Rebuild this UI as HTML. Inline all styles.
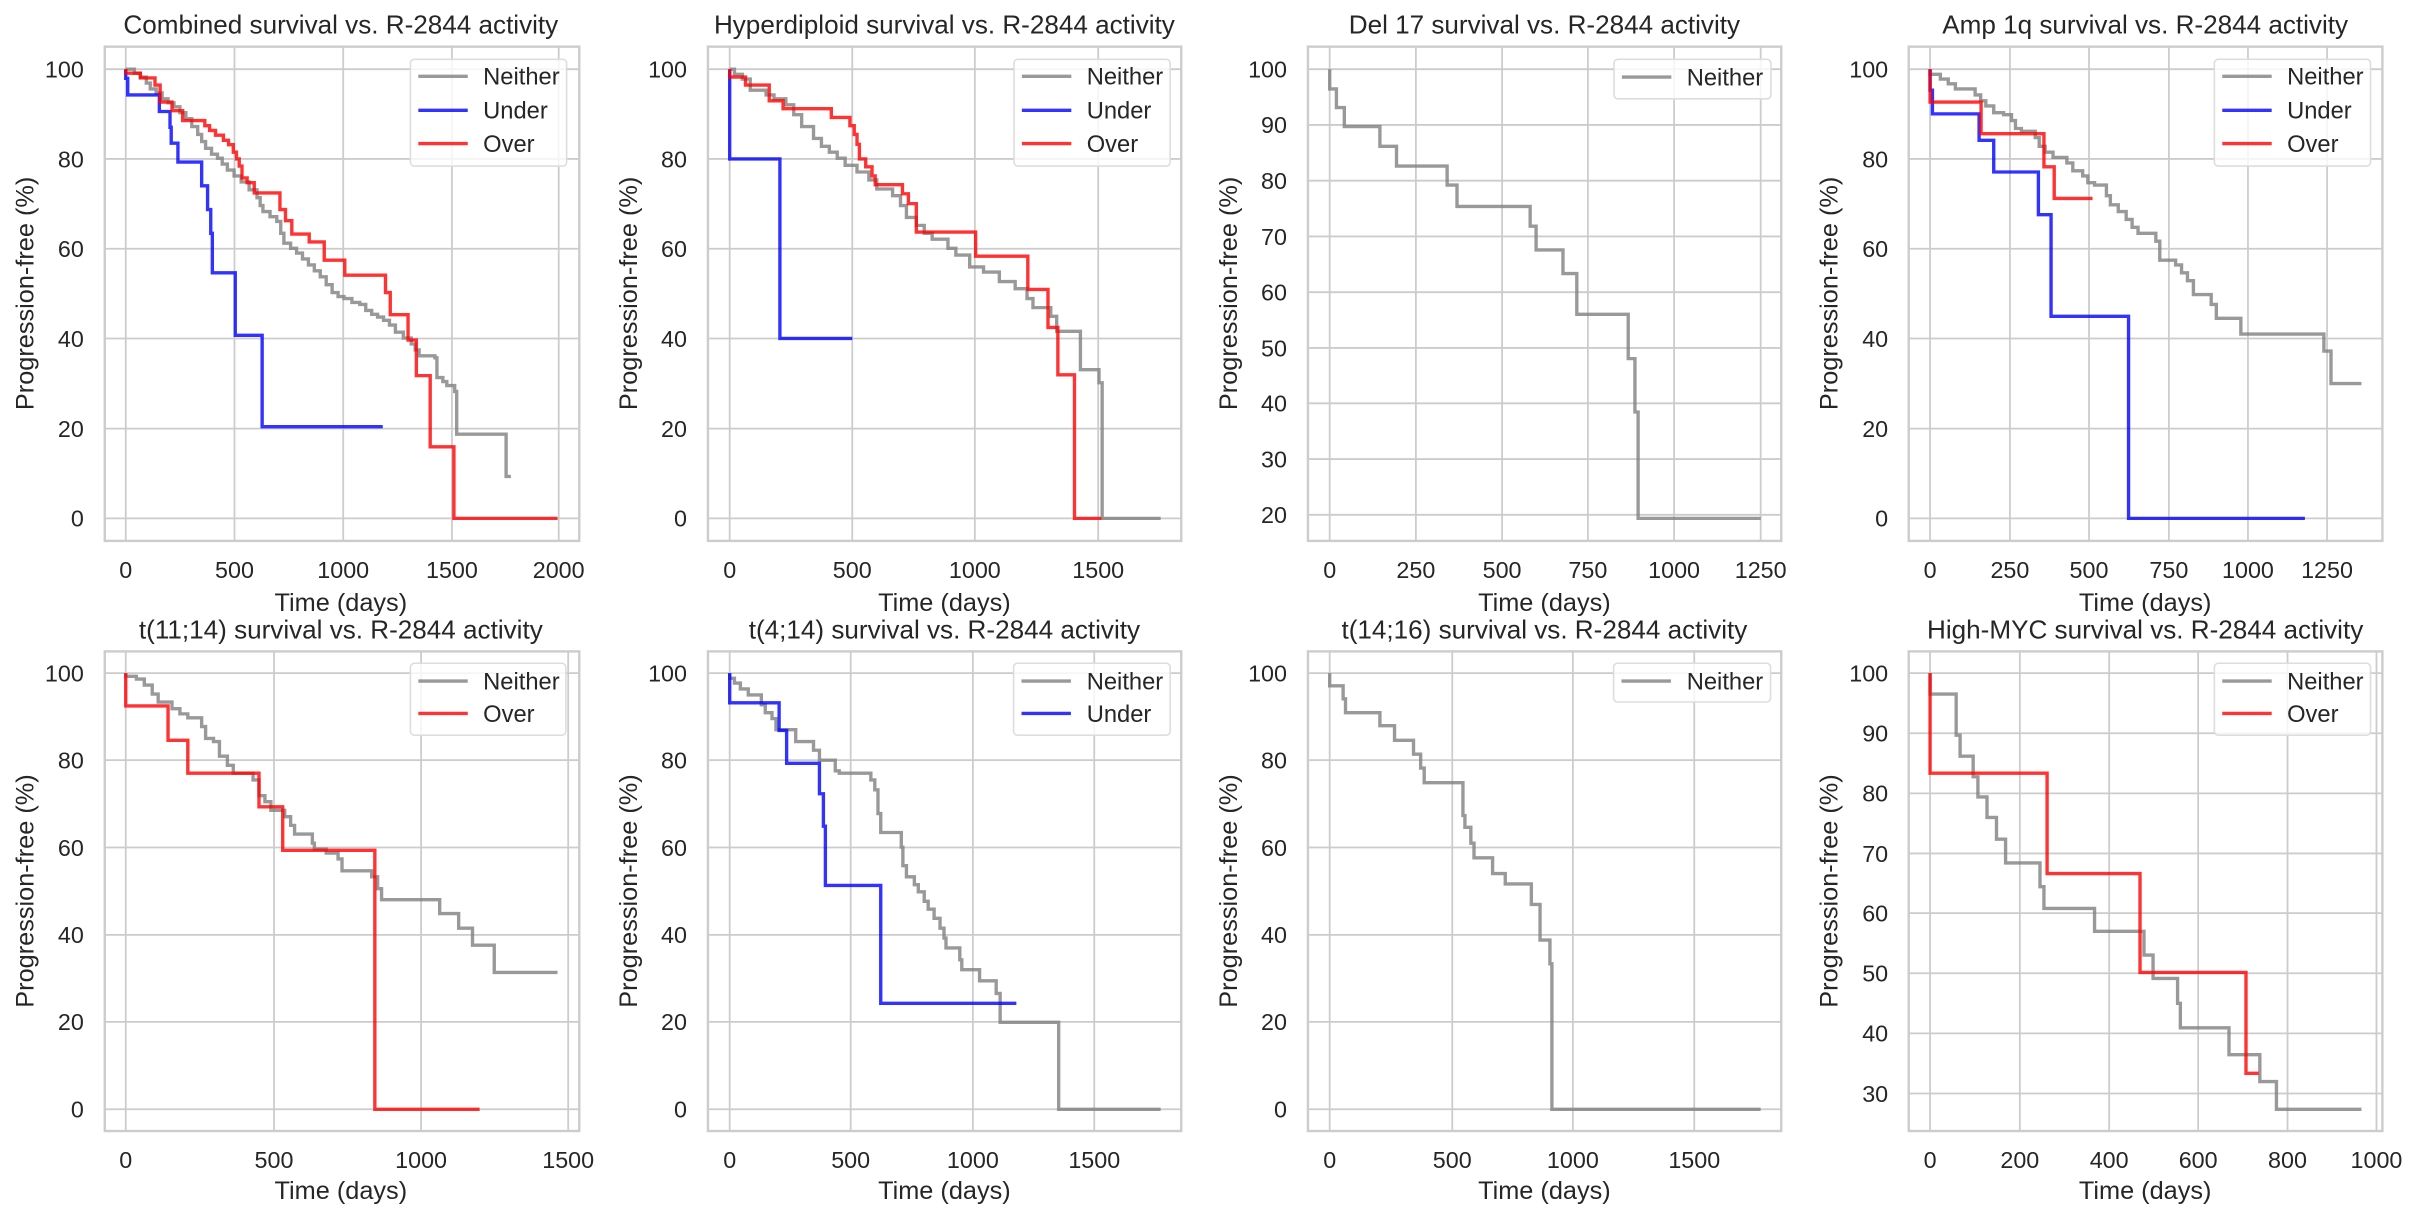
<!DOCTYPE html>
<html><head><meta charset="utf-8"><style>
html,body{margin:0;padding:0;background:#fff;}
svg{display:block;}
text{font-family:"Liberation Sans",Arial,sans-serif;fill:#262626;}
.t{font-size:66px;text-anchor:middle;}
.k{font-size:60px;}
.ky{font-size:59px;text-anchor:end;}
.kx{font-size:59px;text-anchor:middle;}
.l{font-size:64px;text-anchor:middle;}
.g{stroke:#cccccc;stroke-width:4.5;fill:none;}
.ax{stroke:#cccccc;stroke-width:6;fill:none;}
.n{stroke:#808080;stroke-opacity:.8;stroke-width:8.5;fill:none;}
.u{stroke:#0000ff;stroke-opacity:.8;stroke-width:8.5;fill:none;}
.o{stroke:#ff0000;stroke-opacity:.8;stroke-width:8.5;fill:none;}
.lg{fill:#fff;fill-opacity:.8;stroke:#dddddd;stroke-width:4;}
</style></head><body>
<svg width="2418" height="1218" viewBox="0 0 2418 1218" xmlns="http://www.w3.org/2000/svg">
<rect width="2418" height="1218" fill="#fff"/>

<!-- Panel 1 -->
<g transform="translate(0,0) scale(0.3954)">
<text class="t" x="862" y="85">Combined survival vs. R-2844 activity</text>
<path class="g" d="M318,118V1368M593,118V1368M868,118V1368M1143,118V1368M1413,118V1368M265,175H1465M265,402H1465M265,629H1465M265,856H1465M265,1084H1465M265,1311H1465"/>
<rect class="ax" x="265" y="118" width="1200" height="1250"/>
<g class="ky"><text x="212" y="196">100</text><text x="212" y="423">80</text><text x="212" y="650">60</text><text x="212" y="877">40</text><text x="212" y="1105">20</text><text x="212" y="1332">0</text></g>
<g class="kx"><text x="318" y="1462">0</text><text x="593" y="1462">500</text><text x="868" y="1462">1000</text><text x="1143" y="1462">1500</text><text x="1413" y="1462">2000</text></g>
<text class="l" x="862" y="1545">Time (days)</text>
<text class="l" transform="translate(85,742) rotate(-90)">Progression-free (%)</text>
<path class="n" d="M318,175H340V185H355V195H370V210H380V225H395V235H410V250H425V260H440V270H455V285H470V300H485V320H500V340H510V358H520V375H535V390H550V400H562V415H575V430H592V445H610V460H630V480H650V500H658V520H665V535H683V548H700V560H710V590H718V615H735V628H750V640H765V655H780V670H795V685H810V700H825V720H840V740H855V750H870V755H890V765H910V770H925V785H940V795H955V802H970V810H985V822H1000V840H1020V855H1040V870H1050V885H1060V900H1100V905H1105V955H1120V965H1130V975H1150V990H1155V1098H1280V1205H1292"/>
<path class="u" d="M318,175V198H323V240H403V282H430V322H433V362H450V410H510V470H525V530H533V590H537V690H595V848H663V1079H968"/>
<path class="o" d="M318,175V185H355V197H392V215H405V258H435V280H462V305H518V318H530V330H545V342H565V355H578V366H590V385H598V402H605V420H612V450H625V462H643V488H708V530H722V558H738V592H782V612H820V658H872V696H975V740H987V796H1032V860H1053V950H1088V1130H1148V1311H1410"/>
<rect class="lg" x="1038" y="150" width="395" height="270" rx="10"/>
<path class="n" d="M1058,193H1183"/><path class="u" d="M1058,279H1183"/><path class="o" d="M1058,363H1183"/>
<g class="k"><text x="1222" y="214">Neither</text><text x="1222" y="300">Under</text><text x="1222" y="384">Over</text></g>
</g>

<!-- Panel 2 -->
<g transform="translate(600,0) scale(0.3954)">
<text class="t" x="871" y="85">Hyperdiploid survival vs. R-2844 activity</text>
<path class="g" d="M328,118V1368M638,118V1368M948,118V1368M1260,118V1368M273,175H1470M273,402H1470M273,629H1470M273,856H1470M273,1084H1470M273,1311H1470"/>
<rect class="ax" x="273" y="118" width="1197" height="1250"/>
<g class="ky"><text x="220" y="196">100</text><text x="220" y="423">80</text><text x="220" y="650">60</text><text x="220" y="877">40</text><text x="220" y="1105">20</text><text x="220" y="1332">0</text></g>
<g class="kx"><text x="328" y="1462">0</text><text x="638" y="1462">500</text><text x="948" y="1462">1000</text><text x="1260" y="1462">1500</text></g>
<text class="l" x="871" y="1545">Time (days)</text>
<text class="l" transform="translate(93,742) rotate(-90)">Progression-free (%)</text>
<path class="n" d="M328,175H340V188H360V200H380V228H420V240H440V250H470V265H490V290H510V320H540V350H560V370H580V385H600V400H620V418H650V435H680V455H700V478H740V495H760V520H775V550H800V570H820V590H840V605H880V628H900V645H935V675H970V688H1010V712H1050V730H1080V755H1095V778H1140V800H1155V838H1215V935H1262V968H1270V1311H1418"/>
<path class="u" d="M328,175V402H455V856H638"/>
<path class="o" d="M328,175V195H368V215H428V255H463V275H585V297H632V318H643V340H650V365H656V402H672V422H688V445H696V467H765V490H780V515H800V587H950V648H1082V732H1133V828H1158V948H1200V1311H1268"/>
<rect class="lg" x="1047" y="150" width="395" height="270" rx="10"/>
<path class="n" d="M1067,193H1192"/><path class="u" d="M1067,279H1192"/><path class="o" d="M1067,363H1192"/>
<g class="k"><text x="1231" y="214">Neither</text><text x="1231" y="300">Under</text><text x="1231" y="384">Over</text></g>
</g>

<!-- Panel 3 -->
<g transform="translate(1200,0) scale(0.3954)">
<text class="t" x="871" y="85">Del 17 survival vs. R-2844 activity</text>
<path class="g" d="M328,118V1368M546,118V1368M764,118V1368M981,118V1368M1199,118V1368M1418,118V1368M273,175H1470M273,316H1470M273,457H1470M273,598H1470M273,739H1470M273,880H1470M273,1020H1470M273,1161H1470M273,1302H1470"/>
<rect class="ax" x="273" y="118" width="1197" height="1250"/>
<g class="ky"><text x="220" y="196">100</text><text x="220" y="337">90</text><text x="220" y="478">80</text><text x="220" y="619">70</text><text x="220" y="760">60</text><text x="220" y="901">50</text><text x="220" y="1041">40</text><text x="220" y="1182">30</text><text x="220" y="1323">20</text></g>
<g class="kx"><text x="328" y="1462">0</text><text x="546" y="1462">250</text><text x="764" y="1462">500</text><text x="981" y="1462">750</text><text x="1199" y="1462">1000</text><text x="1418" y="1462">1250</text></g>
<text class="l" x="871" y="1545">Time (days)</text>
<text class="l" transform="translate(93,742) rotate(-90)">Progression-free (%)</text>
<path class="n" d="M328,175V225H345V272H365V320H455V370H497V420H625V468H650V522H835V572H850V632H918V692H953V795H1083V907H1100V1042H1108V1311H1418"/>
<rect class="lg" x="1047" y="150" width="397" height="100" rx="10"/>
<path class="n" d="M1067,195H1192"/>
<g class="k"><text x="1231" y="216">Neither</text></g>
</g>

<!-- Panel 4 -->
<g transform="translate(1798,0) scale(0.3954)">
<text class="t" x="878" y="85">Amp 1q survival vs. R-2844 activity</text>
<path class="g" d="M334,118V1368M536,118V1368M736,118V1368M938,118V1368M1138,118V1368M1338,118V1368M280,175H1478M280,402H1478M280,629H1478M280,856H1478M280,1084H1478M280,1311H1478"/>
<rect class="ax" x="280" y="118" width="1198" height="1250"/>
<g class="ky"><text x="228" y="196">100</text><text x="228" y="423">80</text><text x="228" y="650">60</text><text x="228" y="877">40</text><text x="228" y="1105">20</text><text x="228" y="1332">0</text></g>
<g class="kx"><text x="334" y="1462">0</text><text x="536" y="1462">250</text><text x="736" y="1462">500</text><text x="938" y="1462">750</text><text x="1138" y="1462">1000</text><text x="1338" y="1462">1250</text></g>
<text class="l" x="878" y="1545">Time (days)</text>
<text class="l" transform="translate(100,742) rotate(-90)">Progression-free (%)</text>
<path class="n" d="M334,175V188H360V200H380V212H398V225H448V240H462V255H475V268H495V285H520V290H540V305H550V325H565V332H600V348H610V370H625V385H645V398H680V412H695V432H720V445H733V462H750V468H780V495H790V518H810V535H830V555H845V575H860V590H905V610H915V658H955V670H970V690H985V710H1000V745H1045V770H1058V805H1120V845H1330V888H1348V970H1425"/>
<path class="u" d="M334,175V228H340V288H458V355H495V435H608V543H640V800H836V1311H1282"/>
<path class="o" d="M334,175V258H463V338H622V422H648V502H745"/>
<rect class="lg" x="1053" y="150" width="395" height="270" rx="10"/>
<path class="n" d="M1073,193H1198"/><path class="u" d="M1073,279H1198"/><path class="o" d="M1073,363H1198"/>
<g class="k"><text x="1237" y="214">Neither</text><text x="1237" y="300">Under</text><text x="1237" y="384">Over</text></g>
</g>

<!-- Panel 5 -->
<g transform="translate(0,600) scale(0.3954)">
<text class="t" x="862" y="97">t(11;14) survival vs. R-2844 activity</text>
<path class="g" d="M318,130V1343M693,130V1343M1065,130V1343M1437,130V1343M265,185H1465M265,405H1465M265,626H1465M265,847H1465M265,1067H1465M265,1288H1465"/>
<rect class="ax" x="265" y="130" width="1200" height="1213"/>
<g class="ky"><text x="212" y="206">100</text><text x="212" y="426">80</text><text x="212" y="647">60</text><text x="212" y="868">40</text><text x="212" y="1088">20</text><text x="212" y="1309">0</text></g>
<g class="kx"><text x="318" y="1437">0</text><text x="693" y="1437">500</text><text x="1065" y="1437">1000</text><text x="1437" y="1437">1500</text></g>
<text class="l" x="862" y="1515">Time (days)</text>
<text class="l" transform="translate(85,736) rotate(-90)">Progression-free (%)</text>
<path class="n" d="M318,185V193H345V200H365V215H385V238H400V258H435V275H455V288H475V298H510V320H520V350H540V358H555V395H575V418H590V438H640V455H655V495H670V510H685V532H720V548H735V570H745V592H790V615H795V630H825V640H855V655H865V685H940V700H955V730H965V758H1112V793H1160V830H1195V873H1250V942H1410"/>
<path class="o" d="M318,185V268H425V355H475V438H655V523H715V633H948V1288H1213"/>
<rect class="lg" x="1038" y="160" width="393" height="182" rx="10"/>
<path class="n" d="M1058,205H1183"/><path class="o" d="M1058,287H1183"/>
<g class="k"><text x="1222" y="226">Neither</text><text x="1222" y="308">Over</text></g>
</g>

<!-- Panel 6 -->
<g transform="translate(600,600) scale(0.3954)">
<text class="t" x="871" y="97">t(4;14) survival vs. R-2844 activity</text>
<path class="g" d="M328,130V1343M634,130V1343M943,130V1343M1250,130V1343M273,185H1470M273,405H1470M273,626H1470M273,847H1470M273,1067H1470M273,1288H1470"/>
<rect class="ax" x="273" y="130" width="1197" height="1213"/>
<g class="ky"><text x="220" y="206">100</text><text x="220" y="426">80</text><text x="220" y="647">60</text><text x="220" y="868">40</text><text x="220" y="1088">20</text><text x="220" y="1309">0</text></g>
<g class="kx"><text x="328" y="1437">0</text><text x="634" y="1437">500</text><text x="943" y="1437">1000</text><text x="1250" y="1437">1500</text></g>
<text class="l" x="871" y="1515">Time (days)</text>
<text class="l" transform="translate(93,736) rotate(-90)">Progression-free (%)</text>
<path class="n" d="M328,185V198H340V210H355V225H375V240H408V265H418V285H435V300H445V328H495V358H540V380H555V405H595V432H605V438H685V455H695V480H703V540H710V588H762V625H766V672H775V700H795V720H805V738H820V762H830V782H845V805H860V830H870V855H875V880H910V910H915V935H960V963H1002V995H1012V1068H1160V1288H1418"/>
<path class="u" d="M328,185V260H453V330H472V413H555V490H565V572H570V722H710V1020H1053"/>
<rect class="lg" x="1046" y="160" width="396" height="182" rx="10"/>
<path class="n" d="M1066,205H1191"/><path class="u" d="M1066,287H1191"/>
<g class="k"><text x="1231" y="226">Neither</text><text x="1231" y="308">Under</text></g>
</g>

<!-- Panel 7 -->
<g transform="translate(1200,600) scale(0.3954)">
<text class="t" x="871" y="97">t(14;16) survival vs. R-2844 activity</text>
<path class="g" d="M328,130V1343M638,130V1343M943,130V1343M1250,130V1343M273,185H1470M273,405H1470M273,626H1470M273,847H1470M273,1067H1470M273,1288H1470"/>
<rect class="ax" x="273" y="130" width="1197" height="1213"/>
<g class="ky"><text x="220" y="206">100</text><text x="220" y="426">80</text><text x="220" y="647">60</text><text x="220" y="868">40</text><text x="220" y="1088">20</text><text x="220" y="1309">0</text></g>
<g class="kx"><text x="328" y="1437">0</text><text x="638" y="1437">500</text><text x="943" y="1437">1000</text><text x="1250" y="1437">1500</text></g>
<text class="l" x="871" y="1515">Time (days)</text>
<text class="l" transform="translate(93,736) rotate(-90)">Progression-free (%)</text>
<path class="n" d="M328,185V217H362V250H368V285H455V318H492V355H540V390H558V425H567V462H665V545H670V575H685V615H693V652H740V692H772V718H838V770H860V860H885V920H890V1288H1418"/>
<rect class="lg" x="1046" y="160" width="397" height="98" rx="10"/>
<path class="n" d="M1066,205H1191"/>
<g class="k"><text x="1231" y="226">Neither</text></g>
</g>

<!-- Panel 8 -->
<g transform="translate(1798,600) scale(0.3954)">
<text class="t" x="878" y="97">High-MYC survival vs. R-2844 activity</text>
<path class="g" d="M334,130V1343M561,130V1343M787,130V1343M1012,130V1343M1238,130V1343M1463,130V1343M280,185H1478M280,337H1478M280,489H1478M280,641H1478M280,792H1478M280,944H1478M280,1096H1478M280,1248H1478"/>
<rect class="ax" x="280" y="130" width="1198" height="1213"/>
<g class="ky"><text x="228" y="206">100</text><text x="228" y="358">90</text><text x="228" y="510">80</text><text x="228" y="662">70</text><text x="228" y="813">60</text><text x="228" y="965">50</text><text x="228" y="1117">40</text><text x="228" y="1269">30</text></g>
<g class="kx"><text x="334" y="1437">0</text><text x="561" y="1437">200</text><text x="787" y="1437">400</text><text x="1012" y="1437">600</text><text x="1238" y="1437">800</text><text x="1463" y="1437">1000</text></g>
<text class="l" x="878" y="1515">Time (days)</text>
<text class="l" transform="translate(100,736) rotate(-90)">Progression-free (%)</text>
<path class="n" d="M334,185V238H400V342H410V395H443V447H455V498H478V550H502V605H525V665H612V725H622V780H750V838H875V898H898V957H960V1020H967V1082H1090V1150H1168V1218H1210V1288H1425"/>
<path class="o" d="M334,185V438H630V692H865V942H1133V1197H1165"/>
<rect class="lg" x="1053" y="160" width="395" height="182" rx="10"/>
<path class="n" d="M1073,205H1198"/><path class="o" d="M1073,287H1198"/>
<g class="k"><text x="1237" y="226">Neither</text><text x="1237" y="308">Over</text></g>
</g>
</svg>
</body></html>
